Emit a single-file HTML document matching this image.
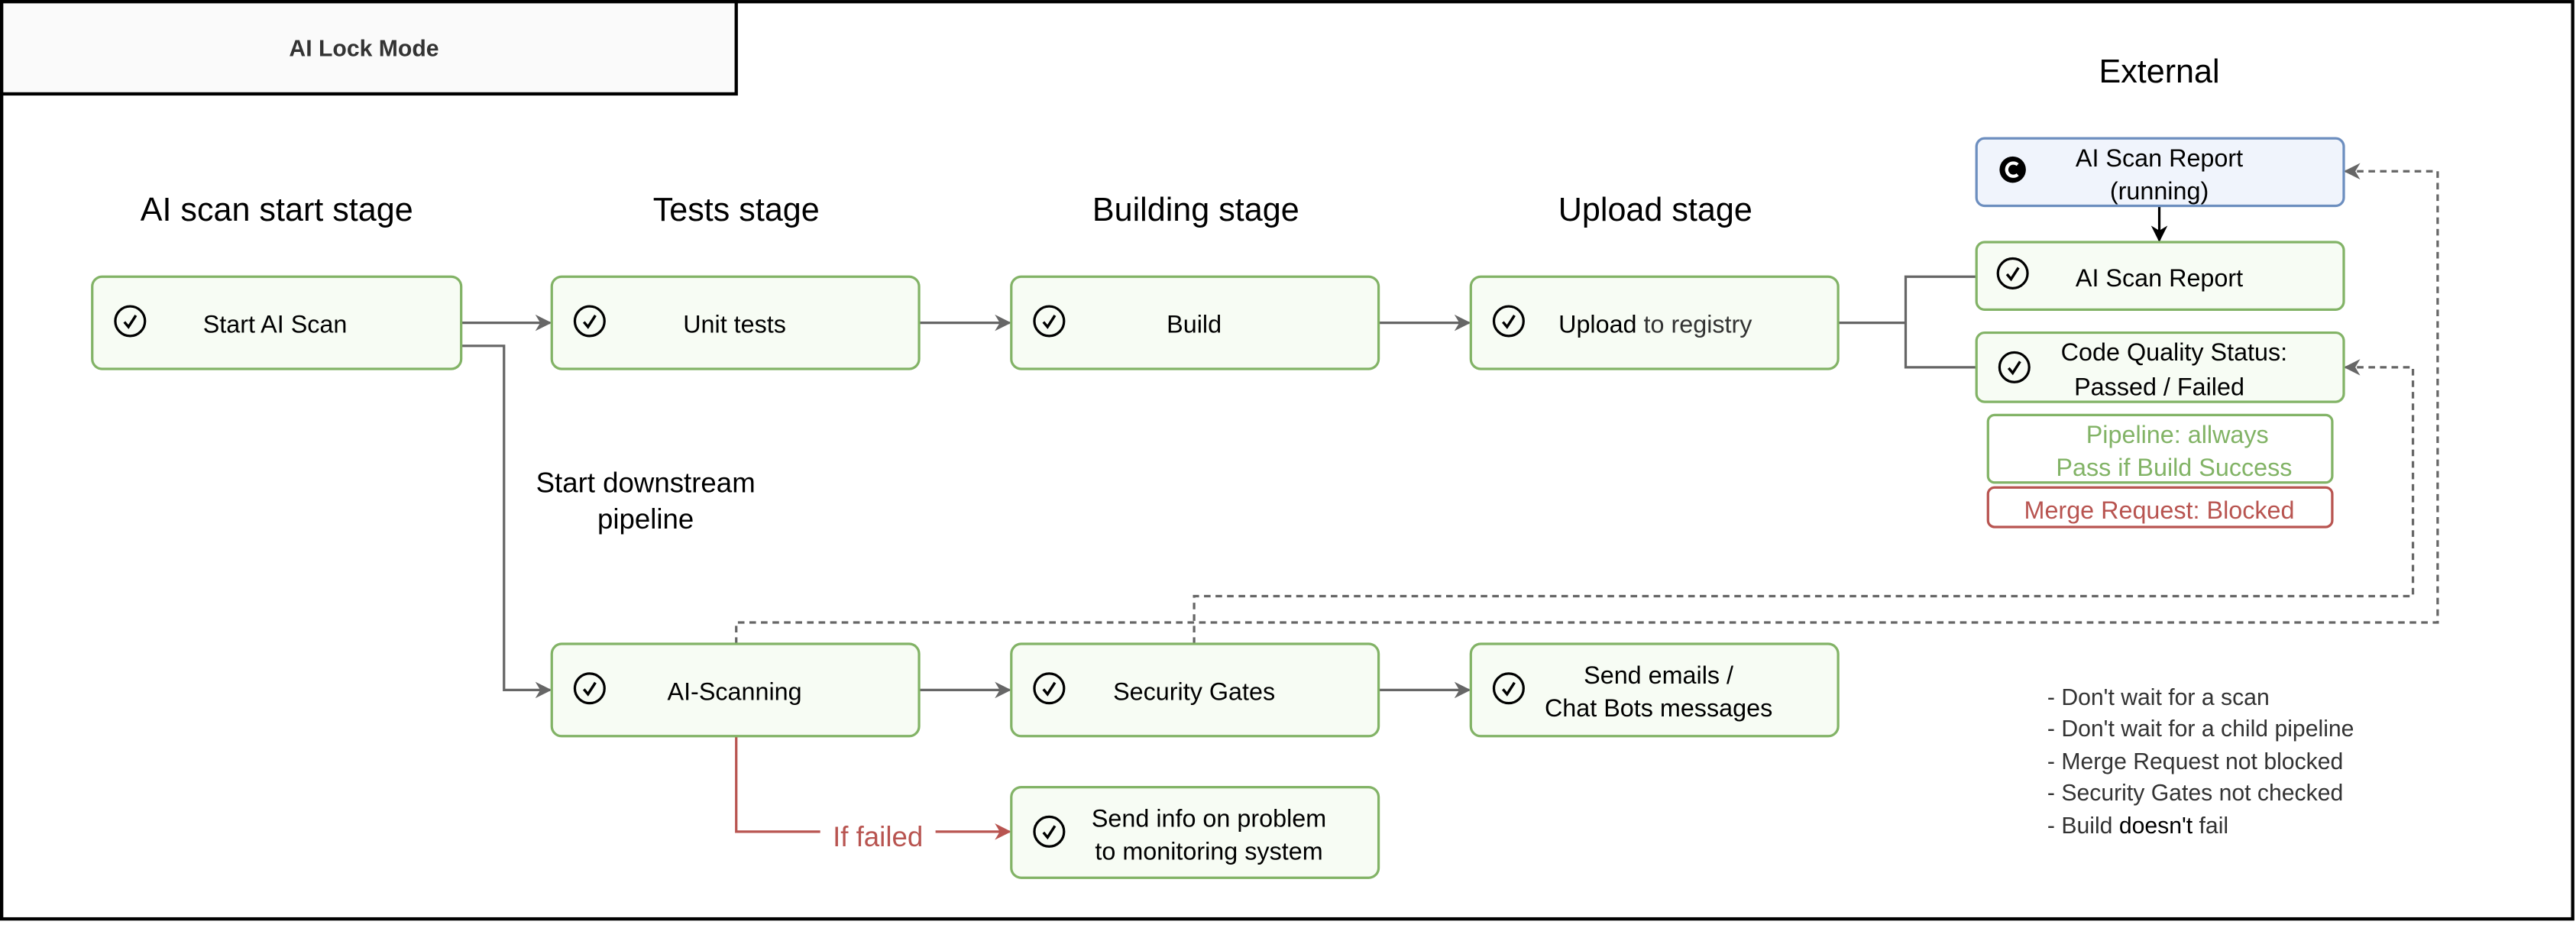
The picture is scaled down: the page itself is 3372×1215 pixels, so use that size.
<!DOCTYPE html>
<html><head><meta charset="utf-8"><style>html,body{margin:0;padding:0;background:#fff}svg{display:block}text{font-family:"Liberation Sans",Arial,sans-serif}</style></head>
<body>
<svg width="3372" height="1215" viewBox="0 0 1564 563.5" xmlns="http://www.w3.org/2000/svg">
<defs>
<marker id="ag" markerWidth="10" markerHeight="10" refX="9" refY="5" orient="auto" markerUnits="userSpaceOnUse"><path d="M0,0 L10,5 L0,10 L3,5 Z" fill="#666"/></marker>
<marker id="ar" markerWidth="10" markerHeight="10" refX="9" refY="5" orient="auto" markerUnits="userSpaceOnUse"><path d="M0,0 L10,5 L0,10 L3,5 Z" fill="#b85450"/></marker>
<marker id="ab" markerWidth="10" markerHeight="10" refX="9" refY="5" orient="auto" markerUnits="userSpaceOnUse"><path d="M0,0 L10,5 L0,10 L3,5 Z" fill="#000"/></marker>
<g id="chk"><circle cx="0" cy="0" r="9" fill="none" stroke="#000" stroke-width="1.5"/><path d="M-3.5,0.5 L-1,3.5 L3.5,-3.5" fill="none" stroke="#000" stroke-width="1.6"/></g>
</defs>
<rect x="1" y="1" width="1561" height="557" fill="#fff" stroke="#000" stroke-width="2"/>
<rect x="1" y="1" width="446" height="56" fill="#fafafa" stroke="#000" stroke-width="2"/>
<text x="221" y="34" font-size="14" font-weight="bold" fill="#333" text-anchor="middle">AI Lock Mode</text>

<g font-size="20" text-anchor="middle" fill="#000">
<text x="168" y="134">AI scan start stage</text>
<text x="447" y="134">Tests stage</text>
<text x="726" y="134">Building stage</text>
<text x="1005" y="134">Upload stage</text>
<text x="1311" y="50">External</text>
</g>

<!-- connectors -->
<g stroke="#666" stroke-width="1.5" fill="none">
<line x1="280" y1="196" x2="334" y2="196" marker-end="url(#ag)"/>
<line x1="558" y1="196" x2="613" y2="196" marker-end="url(#ag)"/>
<line x1="837" y1="196" x2="892" y2="196" marker-end="url(#ag)"/>
<polyline points="280,210 306,210 306,419 334,419" marker-end="url(#ag)"/>
<line x1="558" y1="419" x2="613" y2="419" marker-end="url(#ag)"/>
<line x1="837" y1="419" x2="892" y2="419" marker-end="url(#ag)"/>
<polyline points="1116,196 1157,196"/>
<polyline points="1200,168 1157,168 1157,223 1200,223"/>
<g stroke-dasharray="4,3">
<polyline points="447,391 447,378 1480,378 1480,104 1424,104" marker-end="url(#ag)"/>
<polyline points="725,391 725,362 1465,362 1465,223 1424,223" marker-end="url(#ag)"/>
</g>
</g>
<line x1="1311" y1="125" x2="1311" y2="146" stroke="#000" stroke-width="1.5" marker-end="url(#ab)"/>
<polyline points="447,447 447,505 613,505" stroke="#b85450" stroke-width="1.5" fill="none" marker-end="url(#ar)"/>
<rect x="498" y="496" width="70" height="20" fill="#fff"/>
<text x="533" y="514" font-size="17" fill="#b85450" text-anchor="middle">If failed</text>
<text x="392" y="299" font-size="17" text-anchor="middle">Start downstream</text>
<text x="392" y="321" font-size="17" text-anchor="middle">pipeline</text>

<!-- nodes -->
<g fill="#f7fcf4" stroke="#82b366" stroke-width="1.5">
<rect x="56" y="168" width="224" height="56" rx="6"/>
<rect x="335" y="168" width="223" height="56" rx="6"/>
<rect x="614" y="168" width="223" height="56" rx="6"/>
<rect x="893" y="168" width="223" height="56" rx="6"/>
<rect x="335" y="391" width="223" height="56" rx="6"/>
<rect x="614" y="391" width="223" height="56" rx="6"/>
<rect x="893" y="391" width="223" height="56" rx="6"/>
<rect x="614" y="478" width="223" height="55" rx="6"/>
<rect x="1200" y="147" width="223" height="41" rx="5"/>
<rect x="1200" y="202" width="223" height="42" rx="5"/>
</g>
<rect x="1200" y="84" width="223" height="41" rx="5" fill="#f0f4fc" stroke="#6c8ebf" stroke-width="1.5"/>
<rect x="1207" y="252" width="209" height="41" rx="4" fill="#fff" stroke="#82b366" stroke-width="1.5"/>
<rect x="1207" y="296" width="209" height="24" rx="4" fill="#fff" stroke="#b85450" stroke-width="1.5"/>

<use href="#chk" x="79" y="195"/>
<use href="#chk" x="358" y="195"/>
<use href="#chk" x="637" y="195"/>
<use href="#chk" x="916" y="195"/>
<use href="#chk" x="358" y="418"/>
<use href="#chk" x="637" y="418"/>
<use href="#chk" x="916" y="418"/>
<use href="#chk" x="637" y="505"/>
<use href="#chk" x="1222" y="166"/>
<use href="#chk" x="1223" y="223"/>
<circle cx="1222" cy="103" r="8" fill="#000"/>
<path d="M1225,100 A4,4 0 1 0 1225,106" fill="none" stroke="#fff" stroke-width="2"/>

<g font-size="15" fill="#000" text-anchor="middle">
<text x="167" y="202">Start AI Scan</text>
<text x="446" y="202">Unit tests</text>
<text x="725" y="202">Build</text>
<text x="1005" y="202">Upload <tspan fill="#333">to registry</tspan></text>
<text x="446" y="425">AI-Scanning</text>
<text x="725" y="425">Security Gates</text>
<text x="1007" y="415">Send emails /</text>
<text x="1007" y="435">Chat Bots messages</text>
<text x="734" y="502">Send info on problem</text>
<text x="734" y="522">to monitoring system</text>
<text x="1311" y="101">AI Scan Report</text>
<text x="1311" y="121">(running)</text>
<text x="1311" y="174">AI Scan Report</text>
<text x="1320" y="219">Code Quality Status:</text>
<text x="1311" y="240">Passed / Failed</text>
<text x="1322" y="269" fill="#82b366">Pipeline: allways</text>
<text x="1320" y="289" fill="#82b366">Pass if Build Success</text>
<text x="1311" y="315" fill="#b85450">Merge Request: Blocked</text>
</g>

<g font-size="14" fill="#333">
<text x="1243" y="428">- Don't wait for a scan</text>
<text x="1243" y="447">- Don't wait for a child pipeline</text>
<text x="1243" y="467">- Merge Request not blocked</text>
<text x="1243" y="486">- Security Gates not checked</text>
<text x="1243" y="506">- Build <tspan fill="#000">doesn't</tspan> fail</text>
</g>
</svg>
</body></html>
